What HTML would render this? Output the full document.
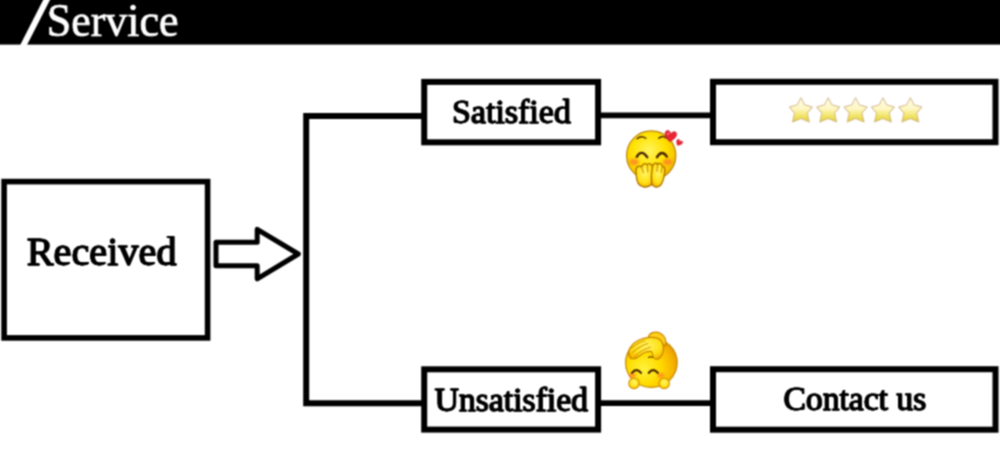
<!DOCTYPE html>
<html>
<head>
<meta charset="utf-8">
<title>Service</title>
<style>
html,body{margin:0;padding:0;background:#fff;}
body{width:1000px;height:464px;overflow:hidden;position:relative;}
svg{position:absolute;left:0;top:0;display:block;}
text{font-family:"Liberation Serif","Times New Roman",serif;font-variant-ligatures:none;}
</style>
</head>
<body>
<svg width="1000" height="464" viewBox="0 0 1000 464">
  <defs>
    <filter id="soft" x="-2%" y="-2%" width="104%" height="104%" color-interpolation-filters="sRGB"><feConvolveMatrix order="3" kernelMatrix="1 2 1 2 4 2 1 2 1" divisor="16" edgeMode="duplicate" preserveAlpha="false"/></filter>
    <filter id="soft2" x="-10%" y="-10%" width="120%" height="120%" color-interpolation-filters="sRGB"><feConvolveMatrix order="3" kernelMatrix="1 2 1 2 4 2 1 2 1" divisor="16" edgeMode="duplicate" preserveAlpha="false"/></filter>
    <filter id="soft3" x="-10%" y="-10%" width="120%" height="120%" color-interpolation-filters="sRGB"><feConvolveMatrix order="3" kernelMatrix="1 2 1 2 4 2 1 2 1" divisor="16" edgeMode="duplicate" preserveAlpha="false"/></filter>
    <filter id="blush" x="-50%" y="-50%" width="200%" height="200%"><feGaussianBlur stdDeviation="1.2"/></filter>
    <radialGradient id="face" cx="45%" cy="40%" r="62%">
      <stop offset="0" stop-color="#fff45e"/>
      <stop offset="0.55" stop-color="#ffe100"/>
      <stop offset="0.85" stop-color="#f7c600"/>
      <stop offset="1" stop-color="#e9a400"/>
    </radialGradient>
    <radialGradient id="face2" cx="35%" cy="62%" r="70%">
      <stop offset="0" stop-color="#fff23c"/>
      <stop offset="0.45" stop-color="#ffdc00"/>
      <stop offset="0.8" stop-color="#f7b500"/>
      <stop offset="1" stop-color="#e89a00"/>
    </radialGradient>
    <radialGradient id="hand" cx="50%" cy="40%" r="65%">
      <stop offset="0" stop-color="#fff66a"/>
      <stop offset="0.65" stop-color="#ffe014"/>
      <stop offset="1" stop-color="#f2ae00"/>
    </radialGradient>
    <linearGradient id="star" x1="0" y1="0" x2="0" y2="1">
      <stop offset="0" stop-color="#fffdec"/>
      <stop offset="0.45" stop-color="#fef7c4"/>
      <stop offset="0.72" stop-color="#f3e66f"/>
      <stop offset="1" stop-color="#e2d03c"/>
    </linearGradient>
    <path id="starp" d="M0,-12.700 L3.700,-5.700 L11.500,-3.400 L6.400,2.500 L8.400,11.400 L0,7.900 L-8.400,11.400 L-6.400,2.500 L-11.500,-3.400 L-3.700,-5.700 Z"/>
    <path id="heart" d="M0,3 C-6,-1 -4,-5 -1.800,-4.200 C-0.800,-3.900 -0.200,-3 0,-2.200 C0.200,-3 0.800,-3.900 1.800,-4.200 C4,-5 6,-1 0,3 Z"/>
  </defs>
  <g filter="url(#soft)">
  <!-- header -->
  <rect x="-2" y="-2" width="1004" height="46.600" fill="#000"/>
  <polygon points="43.900,-1.500 50.700,-1.500 27,45 20.200,45" fill="#fff"/>
  <text transform="translate(46.700,35.500) scale(1,1.035)" font-size="44" fill="#fff" stroke="#fff" stroke-width="0.7">Service</text>

  <!-- lines -->
  <g fill="none" stroke="#000" stroke-width="6">
    <rect x="4.100" y="181.600" width="203.500" height="156.300" stroke-width="5.600"/>
    <path d="M424.200,116.100 H306.200 V403.200 H424.200"/>
    <rect x="424.200" y="81.900" width="173.900" height="60.400"/>
    <rect x="424.200" y="369.300" width="173.900" height="60.300"/>
    <path d="M598,115.300 H713" stroke-width="5.800"/>
    <path d="M598,403.200 H713" stroke-width="5.800"/>
    <rect x="713" y="81.800" width="282.500" height="60.400"/>
    <rect x="713" y="369.200" width="282.500" height="60.500"/>
  </g>
  <path d="M216,242.300 H257.200 V229.300 L298.300,254 L257.200,278.800 V265.800 H216 Z" fill="#fff" stroke="#000" stroke-width="5" stroke-linejoin="round"/>

  <!-- labels -->
  <g id="labels" fill="#000" stroke="#000" stroke-width="0.800" stroke-linejoin="round">
  <text transform="translate(26.700,264.600) scale(0.985,1.005)" font-size="40.900">Received</text>
  <text transform="translate(452,123.100) scale(0.985,1.005)" font-size="34.500">Satisfied</text>
  <text transform="translate(434.600,411.400) scale(0.985,1.005)" font-size="34.200">Unsatisfied</text>
  <text transform="translate(783.500,409.900) scale(0.985,1.005)" font-size="34.100">Contact us</text>
  </g>
  <use href="#labels" x="-0.300"/>
  <use href="#labels" x="0.300"/>
  </g>

  <!-- stars -->
  <g filter="url(#soft3)" fill="url(#star)" stroke="#c4a46e" stroke-opacity="0.650" stroke-width="1.100" stroke-linejoin="round">
    <use href="#starp" x="800.900" y="110.500"/>
    <use href="#starp" x="828.200" y="110.500"/>
    <use href="#starp" x="855.600" y="110.500"/>
    <use href="#starp" x="882.900" y="110.500"/>
    <use href="#starp" x="910.300" y="110.500"/>
  </g>

  <!-- happy emoji -->
  <g filter="url(#soft2)">
    <circle cx="651.200" cy="155.500" r="24.600" fill="url(#face)" stroke="#b8860b" stroke-width="1.200"/>
    <g fill="#ff7a2a" opacity="0.75" filter="url(#blush)">
      <ellipse cx="634.200" cy="162" rx="4.600" ry="3"/>
      <ellipse cx="667.600" cy="162" rx="4.600" ry="3"/>
    </g>
    <g fill="none" stroke="#4a2600" stroke-linecap="round">
      <path d="M637.100,138.700 Q641.400,135 645.800,138.300" stroke-width="1.400"/>
      <path d="M658.700,138.300 Q662.600,134.800 666.100,137.900" stroke-width="1.400"/>
      <path d="M636.700,156.800 Q641.600,148.800 647.200,157.200" stroke-width="2.400"/>
      <path d="M657,157.200 Q661.900,149 666.800,156.600" stroke-width="2.400"/>
    </g>
    <!-- hands -->
    <g fill="url(#hand)" stroke="#ad6e00" stroke-width="1.300" stroke-linejoin="round">
      <path d="M636,172 C635,166 640,165.500 641.500,167 C642.500,163.500 646,162.800 647.300,165 C648.500,162.800 652,163.500 652.600,167 C654,172 654,181 651,185 C647,188.500 640,187 638,183 C636.500,180 636.200,176 636,172 Z"/>
      <path d="M652.400,167 C653,163 656.500,162.300 657.600,164.600 C659,162.500 662,163.500 662.400,166.500 C664.500,166 665.500,169 664.600,172.500 C664,178 663,183 660,185.800 C657,188 653,187 651.800,184 C651,179 651.600,172 652.400,167 Z"/>
    </g>
    <g fill="none" stroke="#c48600" stroke-width="1" stroke-linecap="round">
      <path d="M641.500,167 L643.500,173"/>
      <path d="M647.300,165 L647.800,172"/>
      <path d="M657.600,164.600 L657,171.500"/>
      <path d="M662.400,166.500 L661,172.500"/>
    </g>
    <!-- hearts -->
    <g fill="#ea2433" stroke="#c4101e" stroke-width="0.400">
      <use href="#heart" transform="translate(670.300,137.300) rotate(10) scale(1.450)"/>
      <use href="#heart" transform="translate(678.800,143.300) rotate(30) scale(0.800)"/>
    </g>
    <ellipse cx="668.200" cy="133.800" rx="1.300" ry="0.800" fill="#ff8f96" transform="rotate(-30 668.200 133.800)"/>
  </g>

  <!-- sorry emoji -->
  <g filter="url(#soft2)">
    <ellipse cx="651.400" cy="362.600" rx="25.800" ry="24.800" fill="url(#face2)" stroke="#c68a00" stroke-width="1.200"/>
    <!-- arm + hand on head -->
    <g fill="url(#hand)" stroke="#c98500" stroke-width="1.200" stroke-linejoin="round">
      <path d="M648.500,337 C649,332.500 655,331 660,333 C664.500,335.500 666.800,340 665.600,346 L659,341 Z" fill="#ffcf1a"/>
      <path d="M629,355.500 C627.500,350 631,344 638,340.500 C645,337 655,336 660,339.500 C664,343 664.500,350 662,355 C660,359.500 655.500,360.500 653.500,357.500 C652.500,355.500 652.500,353 651.500,351.500 C648,351 643,353 639.500,356 C636,359 630.500,360.500 629,355.500 Z"/>
    </g>
    <g fill="none" stroke="#d99a00" stroke-width="1.100" stroke-linecap="round">
      <path d="M631,348.500 Q637,343 645,340.500"/>
      <path d="M632.500,352.500 Q639.500,346 648,343.500"/>
      <path d="M635,356 Q641.500,350 650.500,347"/>
    </g>
    <g fill="#ff7a2a" opacity="0.700" filter="url(#blush)">
      <ellipse cx="632.500" cy="375.500" rx="3.600" ry="2.400"/>
      <ellipse cx="660.800" cy="375.500" rx="3.600" ry="2.400"/>
    </g>
    <g fill="none" stroke="#4a2600" stroke-linecap="round">
      <path d="M632,372.900 Q636.300,367.300 641,372.900" stroke-width="2.200"/>
      <path d="M648.800,372.900 Q653,367.300 657.800,372.900" stroke-width="2.200"/>
      <path d="M648.500,357.500 Q650.500,356 652.500,357.300" stroke-width="1.100"/>
    </g>
    <g fill="url(#hand)" stroke="#d08f00" stroke-width="1.100">
      <circle cx="634" cy="383.400" r="5.200"/>
      <circle cx="664.200" cy="383.400" r="5.200"/>
    </g>
  </g>
</svg>
</body>
</html>
